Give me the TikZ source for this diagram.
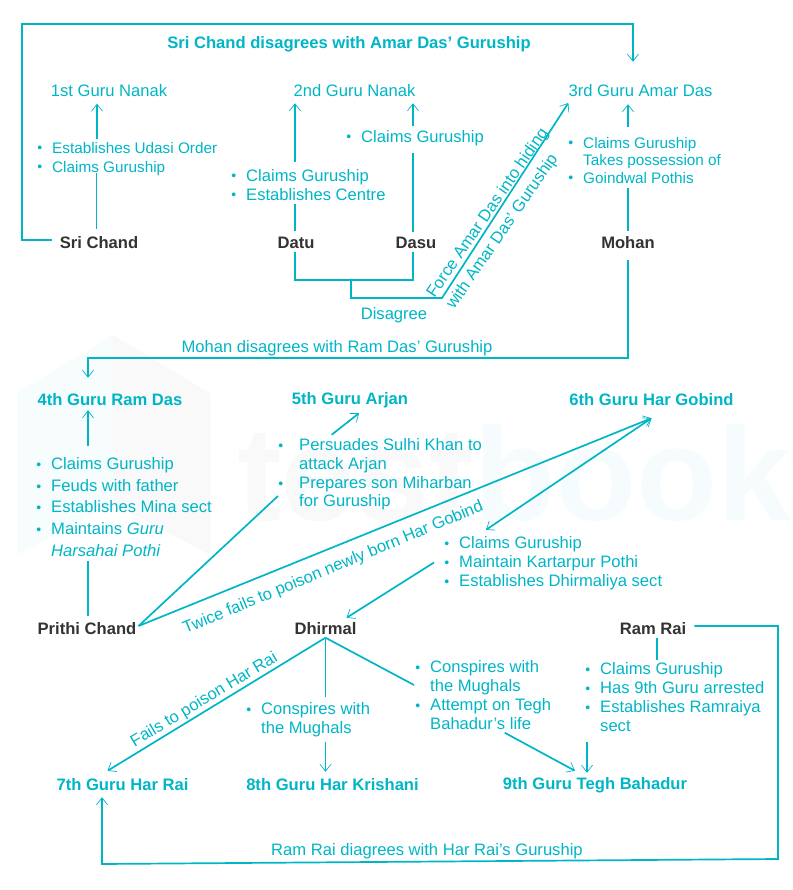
\documentclass[tikz,border=0pt]{standalone}
\usepackage{fontspec}
\setmainfont{Liberation Sans}
\usetikzlibrary{arrows.meta}
\definecolor{tealLine}{HTML}{00B5C6}
\definecolor{darkName}{HTML}{333333}
\newcommand{\itemBullet}[1][10pt]{\llap{\raisebox{0.5pt}{\fontsize{14}{14}\selectfont\textbullet}\hspace{#1}}}

\begin{document}
\begin{tikzpicture}
[x=1pt,y=-1pt,%
  lineDecorate/.style={-,tealLine,line width=1.7pt},%
  arrowDecorate/.style={lineDecorate,-{Straight Barb[length=7pt,width=11pt,line width=0.7pt]}},%
  textDecorate/.style={inner sep=0pt,text height=13pt,text depth=3pt,anchor=base,yshift=-6.5pt,tealLine,font=\fontsize{16.6}{20}\selectfont},%
  guruDecorate/.style={textDecorate},%
  boldDecorate/.style={textDecorate,font=\fontsize{16.6}{20}\selectfont\bfseries},%
  nameDecorate/.style={boldDecorate,text=darkName},%
  itemDecorate/.style={textDecorate,anchor=base west},%
  smallDecorate/.style={itemDecorate,font=\fontsize{15.3}{18}\selectfont},%
  slantDecorate/.style={textDecorate,anchor=center,yshift=0pt}]
%% watermark
\useasboundingbox (0,0) rectangle (792,890);
\fill[fill=tealLine!3] (17,393) -- (113,335) -- (113,503) -- (17,555) -- cycle;
\fill[fill=black!2.5] (113,335) -- (210,393) -- (210,555) -- (113,503) -- cycle;
\node (markTest) at (237,520) [inner sep=0pt,anchor=base west,text=black!2.5,font=\fontsize{133}{133}\selectfont\bfseries] {test};
\node (markBook) at (markTest.base east) [inner sep=0pt,anchor=base west,text=tealLine!3.5,font=\fontsize{133}{133}\selectfont\bfseries] {book};
%% gurus and claimants
\foreach \nodename/\x/\y/\nodetext in {
  nanakA/109/90/1st Guru Nanak, nanakB/354.5/90/2nd Guru Nanak, amardas/640.5/90/3rd Guru Amar Das}
{
  \node (\nodename) at (\x,\y) [guruDecorate] {\nodetext};
}
\foreach \nodename/\x/\y/\nodetext in {
  ramdas/110/399/4th Guru Ram Das, arjan/350/398/5th Guru Arjan, hargobind/651.5/399/6th Guru Har Gobind,
  harrai/122.5/784/7th Guru Har Rai, krishani/332.5/784/8th Guru Har Krishani, tegh/595/783/9th Guru Tegh Bahadur}
{
  \node (\nodename) at (\x,\y) [boldDecorate] {\nodetext};
}
\foreach \nodename/\x/\y/\nodetext in {
  srichand/99/242/Sri Chand, datu/296/242/Datu, dasu/416/242/Dasu, mohan/628/242/Mohan,
  prithi/87/628/Prithi Chand, dhirmal/325.5/628/Dhirmal, ramrai/653/628/Ram Rai}
{
  \node (\nodename) at (\x,\y) [nameDecorate] {\nodetext};
}
%% item lists
\foreach \nodename/\x/\y/\nodetext in {
  udasi/52/147/\itemBullet Establishes Udasi Order, claimsA/52/166/\itemBullet Claims Guruship,
  claimsD/583/142/\itemBullet Claims Guruship, takes/583/159/Takes possession of, goindwal/583/177/\itemBullet Goindwal Pothis}
{
  \node (\nodename) at (\x,\y) [smallDecorate] {\nodetext};
}
\foreach \nodename/\x/\y/\nodetext in {
  claimsB/246/175/\itemBullet Claims Guruship, establishB/246/194/\itemBullet Establishes Centre,
  claimsC/361/136/\itemBullet Claims Guruship,
  claimsE/51/463/\itemBullet Claims Guruship, feuds/51/485/\itemBullet Feuds with father,
  mina/51/506/\itemBullet Establishes Mina sect, maintains/51/528/\itemBullet Maintains \textit{Guru},
  harsahai/51/550/\textit{Harsahai Pothi},
  persuades/299/444/\itemBullet[16pt]Persuades Sulhi Khan to, attack/299/463/attack Arjan,
  prepares/299/482/\itemBullet[16pt]Prepares son Miharban, forguruship/299/500/for Guruship,
  claimsG/459/542/\itemBullet Claims Guruship, kartarpur/459/561/\itemBullet Maintain Kartarpur Pothi,
  dhirmaliya/459/580/\itemBullet Establishes Dhirmaliya sect,
  conspiresH/261/708/\itemBullet Conspires with, mughalsH/261/727/the Mughals,
  conspiresI/430/666/\itemBullet Conspires with, mughalsI/430/685/the Mughals,
  attempt/430/704/\itemBullet Attempt on Tegh, bahadurI/430/723/Bahadur’s life,
  claimsJ/600/668/\itemBullet Claims Guruship, arrested/600/687/\itemBullet Has 9th Guru arrested,
  ramraiya/600/706/\itemBullet Establishes Ramraiya, sectJ/600/725/sect}
{
  \node (\nodename) at (\x,\y) [itemDecorate] {\nodetext};
}
%% connector labels
\node (titleA) at (349,42) [boldDecorate] {Sri Chand disagrees with Amar Das’ Guruship};
\node (disagree) at (394,313) [guruDecorate] {Disagree};
\node (titleB) at (337,346) [guruDecorate] {Mohan disagrees with Ram Das’ Guruship};
\node (titleC) at (427,849) [guruDecorate] {Ram Rai diagrees with Har Rai’s Guruship};
\node (force) at (487.5,206.3) [slantDecorate,rotate=55.5] {Force Amar Das into hiding};
\node (withAmar) at (502,225) [slantDecorate,rotate=55.5] {with Amar Das’ Guruship};
\node (twice) at (333,561) [slantDecorate,rotate=22.5] {Twice fails to poison newly born Har Gobind};
\node (fails) at (204,693) [slantDecorate,rotate=31] {Fails to poison Har Rai};
%% bends
\foreach \nodename/\x/\y in {
  frameSW/22/240, frameNW/22/24, frameNE/633/24, joinDisagree/351/280, forceStart/442/298,
  ramCorner/88/358, raiNE/778/626, raiSE/778/859, raiSW/102/864}
{
  \coordinate (\nodename) at (\x,\y);
}
%% straight up and down lines
\foreach \startnode/\endnode/\x/\gapa/\gapb in {
  srichand.north/claimsA.south/96.5/6.5/-2.5, datu.north/establishB.south/295/4.5/0,
  dasu.north/claimsC.south/413/3.5/7.5, mohan.north/goindwal.south/628/4.5/1.5,
  prithi.north/harsahai.south/88/5/1.5, ramrai.south/claimsJ.north/657/0/1,
  dhirmal.south/conspiresH.north/325.5/0/4.5}
{
  \draw[lineDecorate,shorten <=\gapa pt,shorten >=\gapb pt] (\x,0 |- \startnode) -- (\x,0 |- \endnode);
}
\foreach \startnode/\endnode/\x/\gapa/\gapb in {
  udasi.north/nanakA.south/97/1.5/4, claimsB.north/nanakB.south/295/6.5/3.5,
  claimsC.north/nanakB.south/413/2.8/3.5, claimsD.north/amardas.south/628/8.5/4.5,
  claimsE.north/ramdas.south/88/10.5/1.5, mughalsH.south/krishani.north/325.5/5.5/5.5,
  sectJ.south/tegh.north/587/7.5/3.5}
{
  \draw[arrowDecorate,shorten <=\gapa pt,shorten >=\gapb pt] (\x,0 |- \startnode) -- (\x,0 |- \endnode);
}
%% long connectors
\draw[arrowDecorate] ([xshift=-8pt,yshift=3.5pt]srichand.west) -- (frameSW) -- (frameNW) -- (frameNE) -- ([xshift=-7.5pt,yshift=21.5pt]amardas.north);
\draw[lineDecorate] (295,0 |- datu.south) -- (295,0 |- joinDisagree) -- (413,0 |- joinDisagree) -- (413,0 |- dasu.south);
\draw[arrowDecorate] (joinDisagree) |- (forceStart) -- ([yshift=-11.5pt]amardas.west);
\draw[arrowDecorate,shorten >=14.5pt] ([yshift=-8.5pt]mohan.south) |- (ramCorner) -- (88,0 |- ramdas.north);
\draw[arrowDecorate] ([xshift=-59pt,yshift=2.5pt]persuades.north) -- ([xshift=9pt,yshift=-5.5pt]arjan.south);
\draw[lineDecorate] ([xshift=2pt,yshift=3.5pt]prithi.east) -- ([xshift=-21pt,yshift=-12.5pt]prepares.west);
\draw[arrowDecorate] ([xshift=2pt,yshift=3.5pt]prithi.east) -- ([yshift=-9.5pt]hargobind.south);
\draw[arrowDecorate,{Straight Barb[length=7pt,width=11pt,line width=0.7pt]}-{Straight Barb[length=7pt,width=11pt,line width=0.7pt]}] ([yshift=-9.5pt]hargobind.south) -- ([xshift=-34.5pt,yshift=5.5pt]claimsG.north);
\draw[arrowDecorate] ([xshift=-25pt]kartarpur.west) -- ([xshift=21pt,yshift=3.5pt]dhirmal.north);
\draw[arrowDecorate] (dhirmal.south) -- ([xshift=-15pt,yshift=6.5pt]harrai.north);
\draw[lineDecorate] (dhirmal.south) -- ([xshift=-16pt,yshift=1.5pt]mughalsI.west);
\draw[arrowDecorate] (bahadurI.south) ++(24pt,0) -- ([xshift=-20pt,yshift=5.5pt]tegh.north);
\draw[arrowDecorate] ([xshift=8pt,yshift=3.5pt]ramrai.east) -- (raiNE) -- (raiSE) -- (raiSW) -- ([xshift=-20.5pt,yshift=-3.5pt]harrai.south);
\end{tikzpicture}
\end{document}
